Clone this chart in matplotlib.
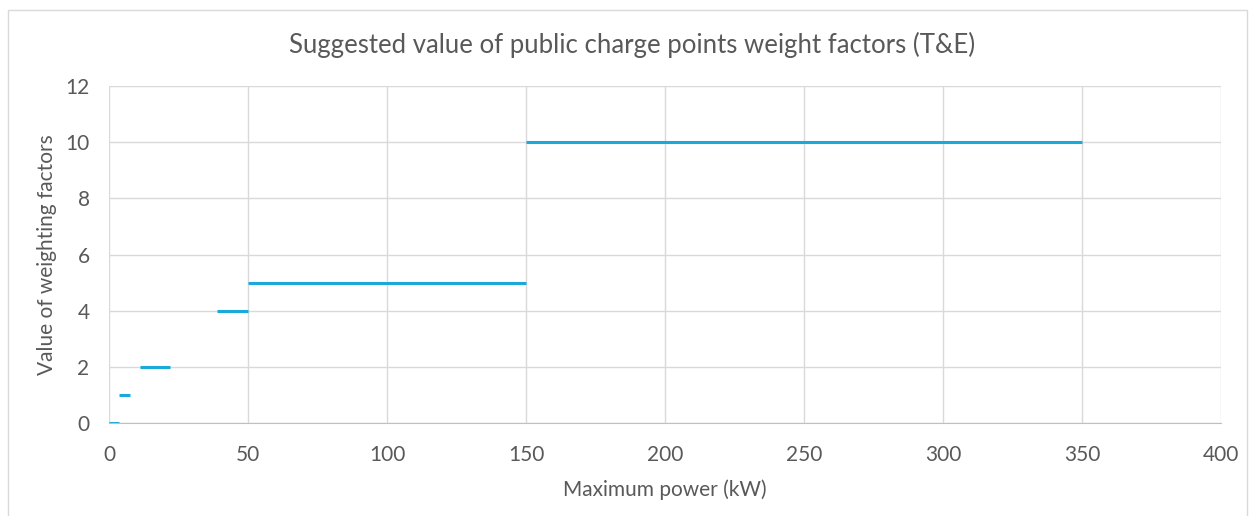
import matplotlib.pyplot as plt
from matplotlib.patches import Rectangle

# step segments: (start kW, end kW, weighting factor)
seg_start = [0, 3.7, 11, 39, 50, 150]
seg_end = [3.7, 7.4, 22, 50, 150, 350]
seg_value = [0, 1, 2, 4, 5, 10]

x_ticks = [0, 50, 100, 150, 200, 250, 300, 350, 400]
y_ticks = [0, 2, 4, 6, 8, 10, 12]

plt.rcParams['font.family'] = ['Lato', 'DejaVu Sans']
text_col = '#595959'
line_col = '#1BA9DC'

fig = plt.figure(figsize=(12.5, 5.16), dpi=100)
ax = fig.add_axes([0.0872, 0.180, 0.8896, 0.6533])

# thin frame round the whole chart
fig.patches.append(Rectangle((0.0064, -0.01), 0.991, 0.991, transform=fig.transFigure,
                             fill=False, edgecolor='#d9d9d9', linewidth=1))

ax.hlines(seg_value, seg_start, seg_end, color=line_col, linewidth=2.2)

ax.set_xlim(0, 400)
ax.set_ylim(0, 12)
ax.set_xticks(x_ticks)
ax.set_yticks(y_ticks)
ax.grid(True, color='#d9d9d9', linewidth=1)
ax.set_axisbelow(True)
for s in ['top', 'right', 'left']:
    ax.spines[s].set_visible(False)
ax.spines['bottom'].set_color('#bfbfbf')
ax.tick_params(length=0, labelsize=15, colors=text_col)
ax.tick_params(axis='x', pad=16)
ax.tick_params(axis='y', pad=14)

ax.set_xlabel('Maximum power (kW)', fontsize=15, color=text_col, labelpad=10)
ax.set_ylabel('Value of weighting factors', fontsize=15, color=text_col, labelpad=6)
# title is centred on the whole chart, not on the plot area
fig.text(0.506, 0.913, 'Suggested value of public charge points weight factors (T&E)',
         fontsize=18.5, color=text_col, ha='center', va='center')

fig.savefig('out.png', dpi=100)
